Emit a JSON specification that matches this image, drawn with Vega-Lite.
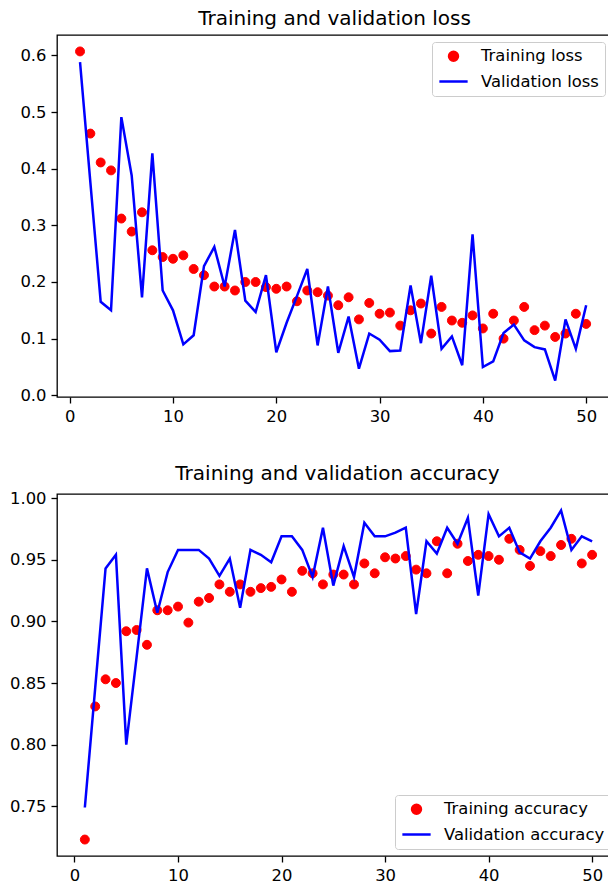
{
  "$schema": "https://vega.github.io/schema/vega-lite/v6.json",
  "background": "white",
  "padding": {"left": 8, "top": 8, "right": 0, "bottom": 0},
  "datasets": {
    "loss": [
      {"epoch":1,"series":"Training loss","value":0.607},{"epoch":2,"series":"Training loss","value":0.462},{"epoch":3,"series":"Training loss","value":0.411},{"epoch":4,"series":"Training loss","value":0.397},{"epoch":5,"series":"Training loss","value":0.312},
      {"epoch":6,"series":"Training loss","value":0.289},{"epoch":7,"series":"Training loss","value":0.323},{"epoch":8,"series":"Training loss","value":0.256},{"epoch":9,"series":"Training loss","value":0.244},{"epoch":10,"series":"Training loss","value":0.241},
      {"epoch":11,"series":"Training loss","value":0.247},{"epoch":12,"series":"Training loss","value":0.223},{"epoch":13,"series":"Training loss","value":0.212},{"epoch":14,"series":"Training loss","value":0.192},{"epoch":15,"series":"Training loss","value":0.192},
      {"epoch":16,"series":"Training loss","value":0.185},{"epoch":17,"series":"Training loss","value":0.200},{"epoch":18,"series":"Training loss","value":0.200},{"epoch":19,"series":"Training loss","value":0.191},{"epoch":20,"series":"Training loss","value":0.188},
      {"epoch":21,"series":"Training loss","value":0.192},{"epoch":22,"series":"Training loss","value":0.166},{"epoch":23,"series":"Training loss","value":0.185},{"epoch":24,"series":"Training loss","value":0.182},{"epoch":25,"series":"Training loss","value":0.176},
      {"epoch":26,"series":"Training loss","value":0.159},{"epoch":27,"series":"Training loss","value":0.173},{"epoch":28,"series":"Training loss","value":0.134},{"epoch":29,"series":"Training loss","value":0.163},{"epoch":30,"series":"Training loss","value":0.144},
      {"epoch":31,"series":"Training loss","value":0.146},{"epoch":32,"series":"Training loss","value":0.123},{"epoch":33,"series":"Training loss","value":0.150},{"epoch":34,"series":"Training loss","value":0.162},{"epoch":35,"series":"Training loss","value":0.109},
      {"epoch":36,"series":"Training loss","value":0.156},{"epoch":37,"series":"Training loss","value":0.132},{"epoch":38,"series":"Training loss","value":0.128},{"epoch":39,"series":"Training loss","value":0.141},{"epoch":40,"series":"Training loss","value":0.118},
      {"epoch":41,"series":"Training loss","value":0.144},{"epoch":42,"series":"Training loss","value":0.100},{"epoch":43,"series":"Training loss","value":0.132},{"epoch":44,"series":"Training loss","value":0.156},{"epoch":45,"series":"Training loss","value":0.115},
      {"epoch":46,"series":"Training loss","value":0.123},{"epoch":47,"series":"Training loss","value":0.103},{"epoch":48,"series":"Training loss","value":0.109},{"epoch":49,"series":"Training loss","value":0.144},{"epoch":50,"series":"Training loss","value":0.126},
      {"epoch":1,"series":"Validation loss","value":0.588},{"epoch":2,"series":"Validation loss","value":0.376},{"epoch":3,"series":"Validation loss","value":0.165},{"epoch":4,"series":"Validation loss","value":0.150},{"epoch":5,"series":"Validation loss","value":0.491},
      {"epoch":6,"series":"Validation loss","value":0.388},{"epoch":7,"series":"Validation loss","value":0.173},{"epoch":8,"series":"Validation loss","value":0.427},{"epoch":9,"series":"Validation loss","value":0.185},{"epoch":10,"series":"Validation loss","value":0.150},
      {"epoch":11,"series":"Validation loss","value":0.090},{"epoch":12,"series":"Validation loss","value":0.106},{"epoch":13,"series":"Validation loss","value":0.228},{"epoch":14,"series":"Validation loss","value":0.262},{"epoch":15,"series":"Validation loss","value":0.192},
      {"epoch":16,"series":"Validation loss","value":0.292},{"epoch":17,"series":"Validation loss","value":0.167},{"epoch":18,"series":"Validation loss","value":0.147},{"epoch":19,"series":"Validation loss","value":0.212},{"epoch":20,"series":"Validation loss","value":0.076},
      {"epoch":21,"series":"Validation loss","value":0.128},{"epoch":22,"series":"Validation loss","value":0.175},{"epoch":23,"series":"Validation loss","value":0.223},{"epoch":24,"series":"Validation loss","value":0.088},{"epoch":25,"series":"Validation loss","value":0.192},
      {"epoch":26,"series":"Validation loss","value":0.075},{"epoch":27,"series":"Validation loss","value":0.139},{"epoch":28,"series":"Validation loss","value":0.047},{"epoch":29,"series":"Validation loss","value":0.109},{"epoch":30,"series":"Validation loss","value":0.098},
      {"epoch":31,"series":"Validation loss","value":0.078},{"epoch":32,"series":"Validation loss","value":0.079},{"epoch":33,"series":"Validation loss","value":0.194},{"epoch":34,"series":"Validation loss","value":0.092},{"epoch":35,"series":"Validation loss","value":0.211},
      {"epoch":36,"series":"Validation loss","value":0.082},{"epoch":37,"series":"Validation loss","value":0.104},{"epoch":38,"series":"Validation loss","value":0.053},{"epoch":39,"series":"Validation loss","value":0.284},{"epoch":40,"series":"Validation loss","value":0.050},
      {"epoch":41,"series":"Validation loss","value":0.060},{"epoch":42,"series":"Validation loss","value":0.110},{"epoch":43,"series":"Validation loss","value":0.125},{"epoch":44,"series":"Validation loss","value":0.097},{"epoch":45,"series":"Validation loss","value":0.085},
      {"epoch":46,"series":"Validation loss","value":0.081},{"epoch":47,"series":"Validation loss","value":0.026},{"epoch":48,"series":"Validation loss","value":0.134},{"epoch":49,"series":"Validation loss","value":0.082},{"epoch":50,"series":"Validation loss","value":0.159}
    ],
    "acc": [
      {"epoch":1,"series":"Training accuracy","value":0.723},{"epoch":2,"series":"Training accuracy","value":0.831},{"epoch":3,"series":"Training accuracy","value":0.853},{"epoch":4,"series":"Training accuracy","value":0.850},{"epoch":5,"series":"Training accuracy","value":0.892},
      {"epoch":6,"series":"Training accuracy","value":0.893},{"epoch":7,"series":"Training accuracy","value":0.881},{"epoch":8,"series":"Training accuracy","value":0.909},{"epoch":9,"series":"Training accuracy","value":0.909},{"epoch":10,"series":"Training accuracy","value":0.912},
      {"epoch":11,"series":"Training accuracy","value":0.899},{"epoch":12,"series":"Training accuracy","value":0.916},{"epoch":13,"series":"Training accuracy","value":0.919},{"epoch":14,"series":"Training accuracy","value":0.930},{"epoch":15,"series":"Training accuracy","value":0.924},
      {"epoch":16,"series":"Training accuracy","value":0.930},{"epoch":17,"series":"Training accuracy","value":0.924},{"epoch":18,"series":"Training accuracy","value":0.927},{"epoch":19,"series":"Training accuracy","value":0.928},{"epoch":20,"series":"Training accuracy","value":0.934},
      {"epoch":21,"series":"Training accuracy","value":0.924},{"epoch":22,"series":"Training accuracy","value":0.941},{"epoch":23,"series":"Training accuracy","value":0.939},{"epoch":24,"series":"Training accuracy","value":0.930},{"epoch":25,"series":"Training accuracy","value":0.938},
      {"epoch":26,"series":"Training accuracy","value":0.938},{"epoch":27,"series":"Training accuracy","value":0.930},{"epoch":28,"series":"Training accuracy","value":0.947},{"epoch":29,"series":"Training accuracy","value":0.939},{"epoch":30,"series":"Training accuracy","value":0.952},
      {"epoch":31,"series":"Training accuracy","value":0.951},{"epoch":32,"series":"Training accuracy","value":0.953},{"epoch":33,"series":"Training accuracy","value":0.942},{"epoch":34,"series":"Training accuracy","value":0.939},{"epoch":35,"series":"Training accuracy","value":0.965},
      {"epoch":36,"series":"Training accuracy","value":0.939},{"epoch":37,"series":"Training accuracy","value":0.963},{"epoch":38,"series":"Training accuracy","value":0.949},{"epoch":39,"series":"Training accuracy","value":0.954},{"epoch":40,"series":"Training accuracy","value":0.953},
      {"epoch":41,"series":"Training accuracy","value":0.950},{"epoch":42,"series":"Training accuracy","value":0.967},{"epoch":43,"series":"Training accuracy","value":0.958},{"epoch":44,"series":"Training accuracy","value":0.945},{"epoch":45,"series":"Training accuracy","value":0.957},
      {"epoch":46,"series":"Training accuracy","value":0.953},{"epoch":47,"series":"Training accuracy","value":0.962},{"epoch":48,"series":"Training accuracy","value":0.967},{"epoch":49,"series":"Training accuracy","value":0.947},{"epoch":50,"series":"Training accuracy","value":0.954},
      {"epoch":1,"series":"Validation accuracy","value":0.749},{"epoch":2,"series":"Validation accuracy","value":0.846},{"epoch":3,"series":"Validation accuracy","value":0.943},{"epoch":4,"series":"Validation accuracy","value":0.954},{"epoch":5,"series":"Validation accuracy","value":0.800},
      {"epoch":6,"series":"Validation accuracy","value":0.871},{"epoch":7,"series":"Validation accuracy","value":0.943},{"epoch":8,"series":"Validation accuracy","value":0.907},{"epoch":9,"series":"Validation accuracy","value":0.940},{"epoch":10,"series":"Validation accuracy","value":0.958},
      {"epoch":11,"series":"Validation accuracy","value":0.958},{"epoch":12,"series":"Validation accuracy","value":0.958},{"epoch":13,"series":"Validation accuracy","value":0.951},{"epoch":14,"series":"Validation accuracy","value":0.937},{"epoch":15,"series":"Validation accuracy","value":0.951},
      {"epoch":16,"series":"Validation accuracy","value":0.911},{"epoch":17,"series":"Validation accuracy","value":0.958},{"epoch":18,"series":"Validation accuracy","value":0.954},{"epoch":19,"series":"Validation accuracy","value":0.948},{"epoch":20,"series":"Validation accuracy","value":0.969},
      {"epoch":21,"series":"Validation accuracy","value":0.969},{"epoch":22,"series":"Validation accuracy","value":0.958},{"epoch":23,"series":"Validation accuracy","value":0.936},{"epoch":24,"series":"Validation accuracy","value":0.976},{"epoch":25,"series":"Validation accuracy","value":0.929},
      {"epoch":26,"series":"Validation accuracy","value":0.961},{"epoch":27,"series":"Validation accuracy","value":0.936},{"epoch":28,"series":"Validation accuracy","value":0.980},{"epoch":29,"series":"Validation accuracy","value":0.969},{"epoch":30,"series":"Validation accuracy","value":0.969},
      {"epoch":31,"series":"Validation accuracy","value":0.972},{"epoch":32,"series":"Validation accuracy","value":0.976},{"epoch":33,"series":"Validation accuracy","value":0.906},{"epoch":34,"series":"Validation accuracy","value":0.965},{"epoch":35,"series":"Validation accuracy","value":0.955},
      {"epoch":36,"series":"Validation accuracy","value":0.976},{"epoch":37,"series":"Validation accuracy","value":0.963},{"epoch":38,"series":"Validation accuracy","value":0.984},{"epoch":39,"series":"Validation accuracy","value":0.921},{"epoch":40,"series":"Validation accuracy","value":0.987},
      {"epoch":41,"series":"Validation accuracy","value":0.969},{"epoch":42,"series":"Validation accuracy","value":0.976},{"epoch":43,"series":"Validation accuracy","value":0.956},{"epoch":44,"series":"Validation accuracy","value":0.951},{"epoch":45,"series":"Validation accuracy","value":0.965},
      {"epoch":46,"series":"Validation accuracy","value":0.976},{"epoch":47,"series":"Validation accuracy","value":0.990},{"epoch":48,"series":"Validation accuracy","value":0.958},{"epoch":49,"series":"Validation accuracy","value":0.969},{"epoch":50,"series":"Validation accuracy","value":0.965}
    ]
  },
  "spacing": 37,
  "resolve": {"scale": {"x": "independent", "y": "independent", "fill": "independent", "stroke": "independent", "shape": "independent", "size": "independent"}, "legend": {"fill": "independent", "stroke": "independent", "shape": "independent", "size": "independent"}},
  "vconcat": [
    {
      "title": "Training and validation loss",
      "width": 555,
      "height": 362,
      "data": {"name": "loss"},
      "encoding": {
        "x": {"field": "epoch", "type": "quantitative", "scale": {"domain": [-1.23, 52.5], "nice": false, "zero": false}, "axis": {"values": [0, 10, 20, 30, 40, 50], "labelFlush": false}},
        "y": {"field": "value", "type": "quantitative", "scale": {"domain": [-0.003, 0.636], "nice": false, "zero": false}, "axis": {"values": [0, 0.1, 0.2, 0.3, 0.4, 0.5, 0.6], "format": ".1f"}},
        "stroke": {
          "field": "series", "type": "nominal",
          "scale": {"domain": ["Training loss", "Validation loss"], "range": ["#ff0000", "#0000ff"]},
          "legend": {"orient": "top-right"}
        }
      },
      "layer": [
        {
          "transform": [{"filter": "datum.series === 'Training loss'"}],
          "mark": {"type": "point", "filled": true, "opacity": 1, "strokeWidth": 1},
          "encoding": {
            "fill": {"field": "series", "type": "nominal", "scale": {"domain": ["Training loss", "Validation loss"], "range": ["#ff0000", "#0000ff"]}, "legend": {"orient": "top-right"}},
            "shape": {"field": "series", "type": "nominal", "scale": {"domain": ["Training loss", "Validation loss"], "range": ["circle", "stroke"]}, "legend": {"orient": "top-right"}},
            "size": {"field": "series", "type": "nominal", "scale": {"domain": ["Training loss", "Validation loss"], "range": [80, 800]}, "legend": {"orient": "top-right"}}
          }
        },
        {"transform": [{"filter": "datum.series === 'Validation loss'"}], "mark": {"type": "line", "strokeWidth": 2.5}}
      ]
    },
    {
      "title": "Training and validation accuracy",
      "width": 561,
      "height": 362,
      "data": {"name": "acc"},
      "encoding": {
        "x": {"field": "epoch", "type": "quantitative", "scale": {"domain": [-1.69, 52.5], "nice": false, "zero": false}, "axis": {"values": [0, 10, 20, 30, 40, 50], "labelFlush": false}},
        "y": {"field": "value", "type": "quantitative", "scale": {"domain": [0.70965, 1.00335], "nice": false, "zero": false}, "axis": {"values": [0.75, 0.8, 0.85, 0.9, 0.95, 1.0], "format": ".2f"}},
        "stroke": {
          "field": "series", "type": "nominal",
          "scale": {"domain": ["Training accuracy", "Validation accuracy"], "range": ["#ff0000", "#0000ff"]},
          "legend": {"orient": "bottom-right"}
        }
      },
      "layer": [
        {
          "transform": [{"filter": "datum.series === 'Training accuracy'"}],
          "mark": {"type": "point", "filled": true, "opacity": 1, "strokeWidth": 1},
          "encoding": {
            "fill": {"field": "series", "type": "nominal", "scale": {"domain": ["Training accuracy", "Validation accuracy"], "range": ["#ff0000", "#0000ff"]}, "legend": {"orient": "bottom-right"}},
            "shape": {"field": "series", "type": "nominal", "scale": {"domain": ["Training accuracy", "Validation accuracy"], "range": ["circle", "stroke"]}, "legend": {"orient": "bottom-right"}},
            "size": {"field": "series", "type": "nominal", "scale": {"domain": ["Training accuracy", "Validation accuracy"], "range": [80, 800]}, "legend": {"orient": "bottom-right"}}
          }
        },
        {"transform": [{"filter": "datum.series === 'Validation accuracy'"}], "mark": {"type": "line", "strokeWidth": 2.5}}
      ]
    }
  ],
  "config": {
    "font": "DejaVu Sans",
    "view": {"stroke": "black", "strokeWidth": 1.3},
    "axis": {"domain": false, "grid": false, "ticks": true, "tickColor": "black", "tickSize": 6, "tickWidth": 1.3, "labelColor": "black", "labelFont": "DejaVu Sans", "labelFontSize": 16.4, "labelPadding": 5, "title": null},
    "title": {"font": "DejaVu Sans", "fontSize": 20, "fontWeight": "normal", "color": "black", "anchor": "middle", "offset": 6},
    "legend": {
      "title": null, "offset": 7, "labelFont": "DejaVu Sans", "labelFontSize": 16.4, "labelColor": "black", "labelLimit": 400,
      "strokeColor": "#cccccc", "fillColor": "white", "cornerRadius": 3, "padding": 6, "rowPadding": 0, "labelOffset": 12,
      "symbolStrokeWidth": 2.5, "symbolOpacity": 1
    }
  }
}
